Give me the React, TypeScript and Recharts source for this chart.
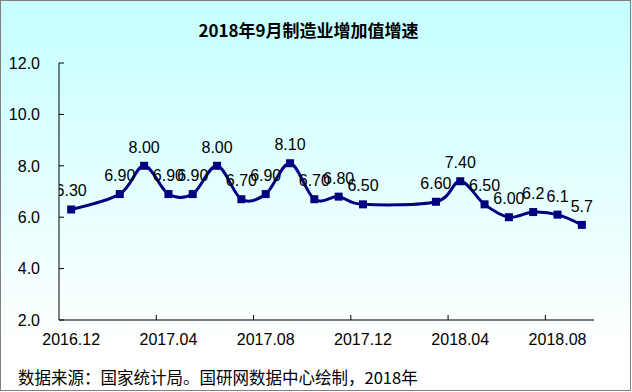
import React from 'react';
import { LineChart, Line, XAxis, YAxis } from 'recharts';

const chartTitle = '2018年9月制造业增加值增速';
const sourceNote = '数据来源：国家统计局。国研网数据中心绘制，2018年';

const months = [
  '2016.12', '2017.01', '2017.02', '2017.03', '2017.04', '2017.05', '2017.06', '2017.07',
  '2017.08', '2017.09', '2017.10', '2017.11', '2017.12', '2018.01', '2018.02', '2018.03',
  '2018.04', '2018.05', '2018.06', '2018.07', '2018.08', '2018.09',
];
const growth: (number | null)[] = [
  6.3, null, 6.9, 8.0, 6.9, 6.9, 8.0, 6.7, 6.9, 8.1, 6.7, 6.8, 6.5, null, null, 6.6,
  7.4, 6.5, 6.0, 6.2, 6.1, 5.7,
];
const growthLabels = [
  '6.30', '', '6.90', '8.00', '6.90', '6.90', '8.00', '6.70', '6.90', '8.10', '6.70', '6.80',
  '6.50', '', '', '6.60', '7.40', '6.50', '6.00', '6.2', '6.1', '5.7',
];
const xTickLabels = ['2016.12', '2017.04', '2017.08', '2017.12', '2018.04', '2018.08'];
const yTicks = [2, 4, 6, 8, 10, 12];

const data = months.map((m, i) => ({ i, month: m, value: growth[i], label: growthLabels[i] }));
const labelIdx = xTickLabels.map((l) => months.indexOf(l));
const boundaryTicks = labelIdx.filter((i) => i > 0).map((i) => i - 0.5);
const xTicks = [...labelIdx, ...boundaryTicks].sort((a, b) => a - b);

const NAVY = '#000080';
const FONT = '"Liberation Sans", Arial, sans-serif';

// Cardinal (tension 0) curve, like Excel smoothed lines
class CardinalCurve {
  _context: any; _k = 1 / 6; _line: number = NaN; _point = 0;
  _x0 = NaN; _x1 = NaN; _x2 = NaN; _y0 = NaN; _y1 = NaN; _y2 = NaN;
  constructor(context: any) { this._context = context; }
  areaStart() { this._line = 0; }
  areaEnd() { this._line = NaN; }
  lineStart() {
    this._x0 = this._x1 = this._x2 = this._y0 = this._y1 = this._y2 = NaN;
    this._point = 0;
  }
  lineEnd() {
    switch (this._point) {
      case 2: this._context.lineTo(this._x2, this._y2); break;
      case 3: this.seg(this._x1, this._y1); break;
    }
    if (this._line || (this._line !== 0 && this._point === 1)) this._context.closePath();
    this._line = 1 - this._line;
  }
  seg(x: number, y: number) {
    this._context.bezierCurveTo(
      this._x1 + this._k * (this._x2 - this._x0),
      this._y1 + this._k * (this._y2 - this._y0),
      this._x2 + this._k * (this._x1 - x),
      this._y2 + this._k * (this._y1 - y),
      this._x2,
      this._y2,
    );
  }
  point(x: number, y: number) {
    x = +x; y = +y;
    switch (this._point) {
      case 0:
        this._point = 1;
        if (this._line) this._context.lineTo(x, y); else this._context.moveTo(x, y);
        break;
      case 1:
        this._point = 2; this._x1 = x; this._y1 = y;
        break;
      case 2:
        this._point = 3;
        this.seg(x, y);
        break;
      default:
        this.seg(x, y);
        break;
    }
    this._x0 = this._x1; this._x1 = this._x2; this._x2 = x;
    this._y0 = this._y1; this._y1 = this._y2; this._y2 = y;
  }
}
const cardinal = (ctx: any) => new CardinalCurve(ctx);

const XTick = (props: any) => {
  const { x, y, payload } = props;
  const v = payload.value;
  if (Number.isInteger(v)) {
    return (
      <text x={x} y={y + 11.5} textAnchor="middle" fontSize={16} fontFamily={FONT} fill="#000">
        {months[v]}
      </text>
    );
  }
  return <line x1={x} x2={x} y1={y - 13} y2={y - 18} stroke="#000" strokeWidth={1} />;
};

const YTick = (props: any) => {
  const { x, y, payload } = props;
  return (
    <g>
      <text x={x} y={y + 5.7} textAnchor="end" fontSize={16} fontFamily={FONT} fill="#000">
        {Number(payload.value).toFixed(1)}
      </text>
      <line x1={x + 19} x2={x + 24} y1={y} y2={y} stroke="#000" strokeWidth={1} />
    </g>
  );
};

const renderDot = (p: any) => {
  const { cx, cy, index, payload } = p;
  if (!payload || payload.value == null || cy == null || cx == null) return <g key={`d${index}`} />;
  return (
    <g key={`d${index}`}>
      <rect x={cx - 4} y={cy - 4} width={8} height={8} fill={NAVY} />
      <text x={cx} y={cy - 13} textAnchor="middle" fontSize={16} fontFamily={FONT} fill="#000">
        {payload.label}
      </text>
    </g>
  );
};

export default function App() {
  return (
    <div
      style={{
        position: 'absolute',
        left: 0,
        top: 0,
        width: 632,
        height: 392,
        background: 'linear-gradient(to bottom, #c4ffff 0%, #ffffff 88%)',
        overflow: 'hidden',
      }}
    >
      <div
        style={{
          position: 'absolute',
          left: 0,
          top: 20,
          width: 617,
          textAlign: 'center',
          fontFamily: '"Noto Sans CJK SC", sans-serif',
          fontWeight: 700,
          fontSize: 17,
          lineHeight: '20px',
          color: '#000',
        }}
      >
        {chartTitle}
      </div>
      <div style={{ position: 'absolute', left: 0, top: 0 }}>
        <LineChart
          width={632}
          height={392}
          data={data}
          margin={{ top: 63, right: 38, bottom: 42, left: 0 }}
        >
          <XAxis
            type="number"
            dataKey="i"
            domain={[-0.5, months.length - 0.5]}
            ticks={xTicks}
            interval={0}
            allowDecimals
            allowDataOverflow
            tickSize={0}
            tickMargin={13}
            tickLine={false}
            axisLine={{ stroke: '#000', strokeWidth: 1 }}
            height={30}
            tick={<XTick />}
          />
          <YAxis
            type="number"
            domain={[2, 12]}
            ticks={yTicks}
            interval={0}
            allowDataOverflow
            width={59}
            tickSize={0}
            tickMargin={19}
            tickLine={false}
            axisLine={{ stroke: '#000', strokeWidth: 1 }}
            tick={<YTick />}
          />
          <Line
            dataKey="value"
            type={cardinal as any}
            stroke={NAVY}
            strokeWidth={3}
            connectNulls
            dot={renderDot}
            activeDot={false}
            isAnimationActive={false}
          />
        </LineChart>
      </div>
      <div
        style={{
          position: 'absolute',
          left: 18,
          top: 367,
          fontFamily: '"Noto Sans CJK SC", sans-serif',
          fontSize: 16.5,
          lineHeight: '20px',
          color: '#000',
          whiteSpace: 'nowrap',
        }}
      >
        {sourceNote}
      </div>
      <div
        style={{
          position: 'absolute',
          left: 0,
          top: 0,
          width: 631,
          height: 391,
          boxSizing: 'border-box',
          border: '1px solid #808080',
          pointerEvents: 'none',
        }}
      />
    </div>
  );
}
